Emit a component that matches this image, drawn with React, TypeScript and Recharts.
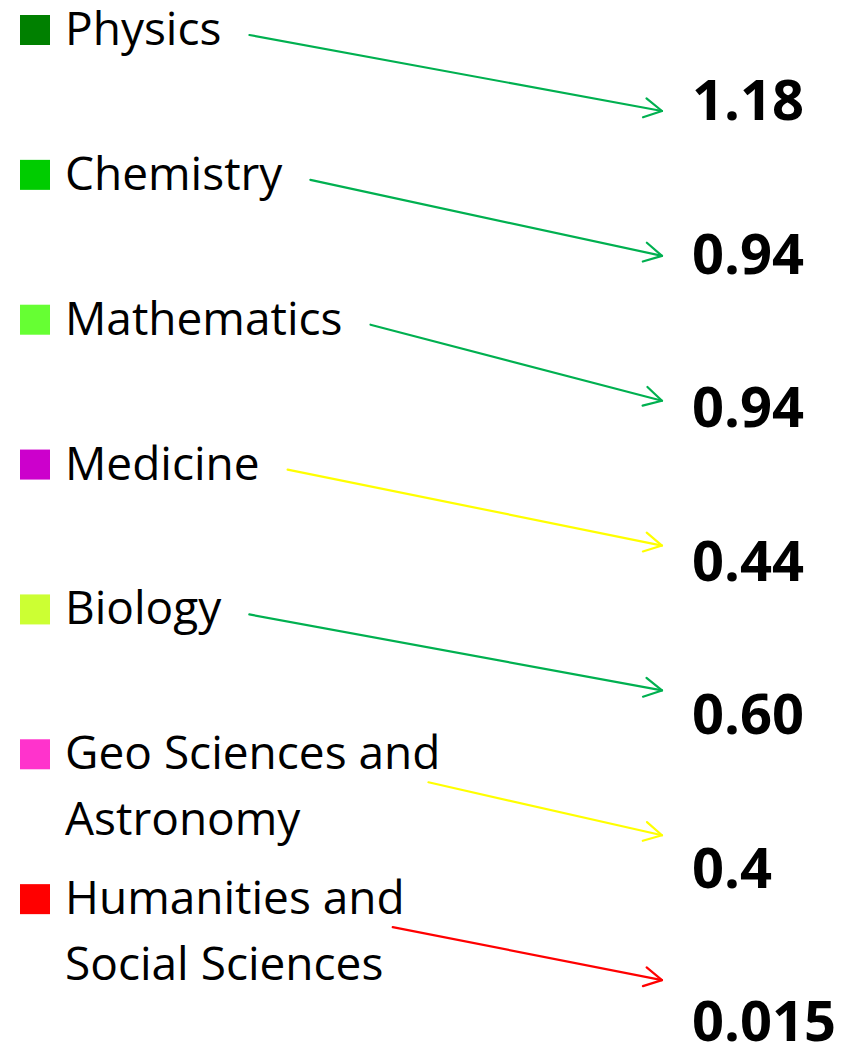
import { useLayoutEffect, useRef, useState } from "react";
import { ComposedChart, Bar, XAxis, YAxis } from "recharts";

// subjects, top to bottom
const subjects = [
  "Physics",
  "Chemistry",
  "Mathematics",
  "Medicine",
  "Biology",
  "Geo Sciences and Astronomy",
  "Humanities and Social Sciences",
];
const labelLines = [
  ["Physics"],
  ["Chemistry"],
  ["Mathematics"],
  ["Medicine"],
  ["Biology"],
  ["Geo Sciences and", "Astronomy"],
  ["Humanities and", "Social Sciences"],
];
const ratioLabels = ["1.18", "0.94", "0.94", "0.44", "0.60", "0.4", "0.015"];
const swatchColors = ["#008000", "#00CC00", "#66FF33", "#CC00CC", "#CCFF33", "#FF33CC", "#FF0000"];
const arrowColors = ["#00B050", "#00B050", "#00B050", "#FFFF00", "#00B050", "#FFFF00", "#FF0000"];

const rows = subjects.map((name, i) => ({
  name,
  lines: labelLines[i],
  ratio: parseFloat(ratioLabels[i]),
  ratioText: ratioLabels[i],
  swatch: swatchColors[i],
  arrow: arrowColors[i],
}));

const FONT = "'Open Sans', 'Noto Sans', sans-serif";
const TEXT_X = 65;
const VALUE_X = 692;

type Pt = { x: number; y: number };

function Arrow({ from, to, color }: { from: Pt; to: Pt; color: string }) {
  const ang = Math.atan2(to.y - from.y, to.x - from.x);
  const len = 20;
  const spread = 0.5;
  const a1 = { x: to.x - len * Math.cos(ang - spread), y: to.y - len * Math.sin(ang - spread) };
  const a2 = { x: to.x - len * Math.cos(ang + spread), y: to.y - len * Math.sin(ang + spread) };
  return (
    <g stroke={color} strokeWidth={2.2} fill="none" strokeLinecap="round" strokeLinejoin="round">
      <line x1={from.x} y1={from.y} x2={to.x} y2={to.y} />
      <polyline points={`${a1.x},${a1.y} ${to.x},${to.y} ${a2.x},${a2.y}`} />
    </g>
  );
}

function LabelMark({ y, payload }: any) {
  const firstRef = useRef<SVGTextElement>(null);
  const [lineW, setLineW] = useState(0);
  const base = y + 45;
  const twoLines = payload.lines.length > 1;

  useLayoutEffect(() => {
    if (firstRef.current) setLineW(firstRef.current.getComputedTextLength());
  }, [payload]);

  // arrow leaves just after the label (or under the end of the first line when wrapped)
  const start = twoLines ? { x: TEXT_X + lineW - 12, y: base + 13 } : { x: TEXT_X + lineW + 28, y: base - 10 };
  const tip = { x: VALUE_X - 30, y: y + 111 };

  return (
    <g>
      <rect x={20} y={y + 15} width={30} height={30} fill={payload.swatch} />
      {payload.lines.map((line: string, k: number) => (
        <text
          key={k}
          ref={k === 0 ? firstRef : undefined}
          x={TEXT_X}
          y={base + k * 66}
          fontFamily={FONT}
          fontSize={46}
          fill="#000"
        >
          {line}
        </text>
      ))}
      {lineW > 0 && <Arrow from={start} to={tip} color={payload.arrow} />}
    </g>
  );
}

function ValueMark({ y, payload }: any) {
  const top = y + 80;
  return (
    <text x={VALUE_X} y={top + 40} fontFamily={FONT} fontWeight={700} fontSize={56} fill="#000">
      {payload.ratioText}
    </text>
  );
}

export default function App() {
  return (
    <div
      style={{
        position: "absolute",
        left: 0,
        top: 0,
        width: 846,
        height: 1044,
        overflow: "hidden",
        background: "#fff",
      }}
    >
      <ComposedChart
        layout="vertical"
        width={846}
        height={1100}
        data={rows}
        margin={{ top: 0, right: 0, bottom: 0, left: 0 }}
        barCategoryGap={0}
        barGap={0}
      >
        <XAxis type="number" hide domain={[0, 1.2]} />
        <YAxis yAxisId="lab" type="category" dataKey="name" hide padding={{ top: 0, bottom: 86 }} />
        <YAxis yAxisId="val" type="category" dataKey="name" hide padding={{ top: 0, bottom: 25.5 }} />
        <Bar yAxisId="lab" dataKey="ratio" isAnimationActive={false} shape={(p: any) => <LabelMark {...p} />} />
        <Bar yAxisId="val" dataKey="ratio" isAnimationActive={false} shape={(p: any) => <ValueMark {...p} />} />
      </ComposedChart>
    </div>
  );
}
